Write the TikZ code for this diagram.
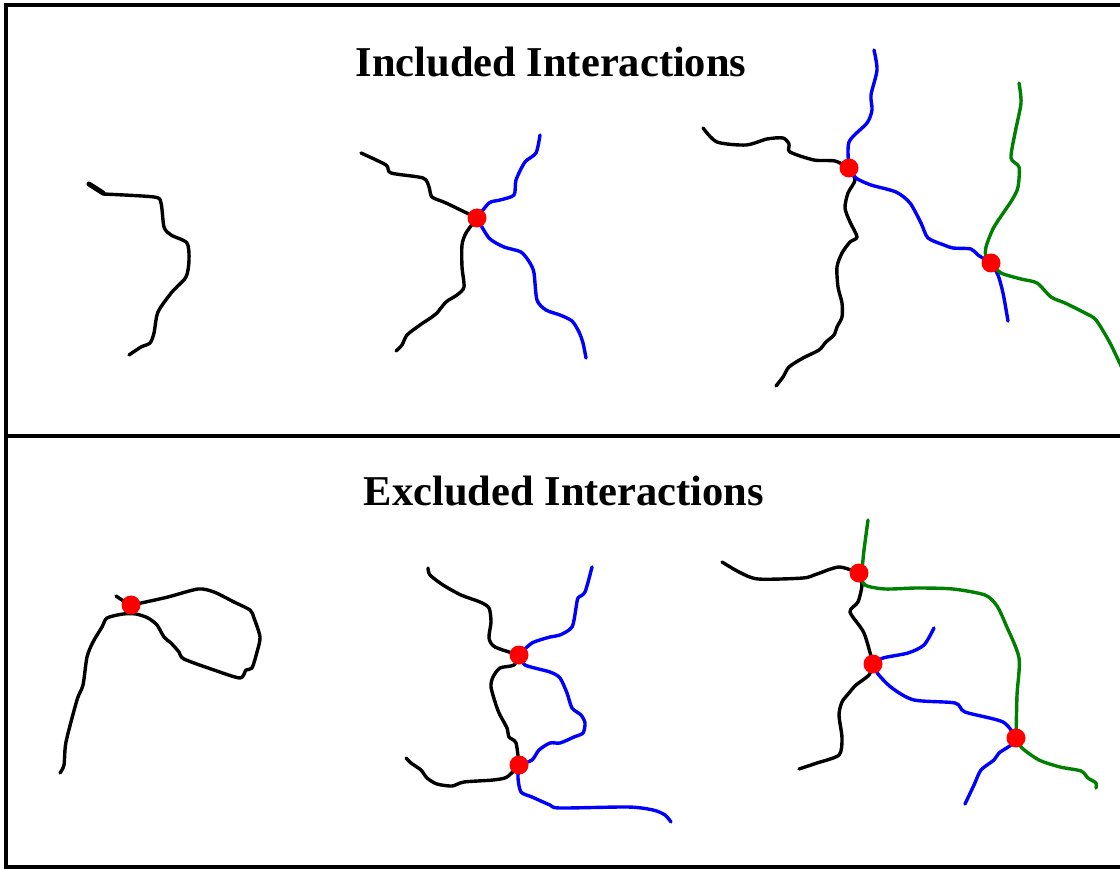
\documentclass[tikz,border=0pt]{standalone}
\usepackage{fontspec}
\setmainfont{Liberation Serif}
\usetikzlibrary{calc}
\definecolor{strandblue}{rgb}{0.00,0.00,1.00}
\definecolor{strandgreen}{rgb}{0.00,0.50,0.00}
\tikzset{
  strand/.style={line width=3.4pt, line cap=round, line join=round},
  frameline/.style={line width=3.4pt},
  heading/.style={font=\fontsize{42.5}{50}\selectfont\bfseries, anchor=base}
}

\begin{document}
\begin{tikzpicture}[x=1pt,y=-1pt]
    \def\r{9.5}
    \def\tn{0.45}
    \useasboundingbox (0,0) rectangle (1120,869);

    % frame
    \draw[frameline] (1125,5) -- (6,5) -- (6,867) -- (1125,867);
    \draw[frameline] (6,436) -- (1125,436);

    % titles
    \node[heading] (inc) at (551,77) {Included Interactions};
    \node[heading] (exc) at (564,505) {Excluded Interactions};

    % interaction points
    \coordinate (a1) at (477,218);
    \coordinate (b1) at (849,168);
    \coordinate (b2) at (991,263);
    \coordinate (e1) at (131,605);
    \coordinate (f1) at (519,655);
    \coordinate (f2) at (519,765);
    \coordinate (g1) at (859,573);
    \coordinate (g2) at (873,664);
    \coordinate (g3) at (1016,738);

    % included: single strand
    \draw[strand, line width=5pt] (89,184) -- (103,193);
    \draw[strand] plot[smooth, tension=\tn] coordinates {(103,194) (154,197) (161,203)
      (164,227) (171,235) (187,243) (189,260) (186,277) (172,292) (158,312) (154,333)
      (150,343) (141,347) (129,355)};

    % included: one crossing
    \draw[strand] plot[smooth, tension=\tn] coordinates {(361,153) (386,165) (391,173)
      (423,178) (429,187) (432,197) (446,203) (a1)};
    \draw[strand] plot[smooth, tension=\tn] coordinates {(a1) (466,233) (462,245)
      (462,267) (464,287) (457,295) (446,302) (437,313) (432,317) (420,325) (407,335)
      (402,345) (396,351)};
    \draw[strand, strandblue] plot[smooth, tension=\tn] coordinates {(a1) (489,203)
      (500,200) (514,195) (516,180) (525,162) (536,153) (540,135)};
    \draw[strand, strandblue] plot[smooth, tension=\tn] coordinates {(a1) (489,238)
      (504,247) (521,252) (530,263) (534,273) (537,300) (546,310) (560,315) (572,321)
      (579,332) (583,343) (586,358)};

    % included: chain of crossings
    \draw[strand] plot[smooth, tension=\tn] coordinates {(703,128) (717,142) (746,145)
      (767,139) (783,138) (789,144) (790,152) (814,160) (835,161) (b1)};
    \draw[strand] plot[smooth, tension=\tn] coordinates {(b1) (855,180) (848,193)
      (845,208) (850,222) (857,237) (850,242) (842,253) (837,267) (838,287) (842,303)
      (842,317) (837,327) (834,335) (826,342) (819,350) (803,358) (789,367) (783,377)
      (776,386)};
    \draw[strand, strandblue] plot[smooth, tension=\tn] coordinates {(874,50) (877,70)
      (871,95) (872,110) (867,123) (849,142) (b1)};
    \draw[strand, strandblue] plot[smooth, tension=\tn] coordinates {(b1) (856,178)
      (871,185) (896,192) (910,203) (921,223) (928,238) (944,245) (953,248) (971,249)
      (978,255) (b2)};
    \draw[strand, strandblue] plot[smooth, tension=\tn] coordinates {(b2) (998,275)
      (1003,293) (1008,321)};
    \draw[strand, strandgreen] plot[smooth, tension=\tn] coordinates {(1019,83)
      (1021,103) (1015,133) (1011,158) (1019,167) (1018,187) (1012,200) (994,227)
      (986,247) (986,257) (b2)};
    \draw[strand, strandgreen] plot[smooth, tension=\tn] coordinates {(b2) (1001,273)
      (1021,279) (1037,283) (1051,297) (1065,303) (1085,313) (1096,320) (1110,343)
      (1122,368)};

    % excluded: self loop
    \draw[strand] plot[smooth, tension=\tn] coordinates {(116,596) (e1) (141,603)
      (168,597) (198,589) (214,592) (234,602) (250,610) (254,618) (260,637) (257,652)
      (252,668) (246,670) (240,678) (214,670) (184,659) (179,652) (171,643) (164,637)
      (157,625) (148,618) (136,614) (123,614) (107,618) (102,627) (93,642) (87,657)
      (83,685) (77,700) (66,742) (64,765) (60,773)};

    % excluded: double crossing
    \draw[strand] plot[smooth, tension=\tn] coordinates {(428,568) (430,575) (443,585)
      (461,595) (480,602) (489,608) (491,622) (489,638) (495,647) (f1)};
    \draw[strand] plot[smooth, tension=\tn] coordinates {(f1) (514,665) (500,668)
      (493,677) (491,687) (496,705) (500,715) (507,728) (509,737) (516,743) (f2)};
    \draw[strand] plot[smooth, tension=\tn] coordinates {(406,758) (411,763) (421,770)
      (427,778) (437,784) (452,786) (464,782) (493,780) (507,777) (f2)};
    \draw[strand, strandblue] plot[smooth, tension=\tn] coordinates {(f1) (532,643)
      (550,637) (560,635) (572,627) (576,608) (578,598) (585,592) (592,567)};
    \draw[strand, strandblue] plot[smooth, tension=\tn] coordinates {(f1) (525,665)
      (550,672) (560,678) (567,693) (572,708) (581,715) (585,723) (583,733) (574,737)
      (560,743) (550,743) (539,750) (532,760) (f2)};
    \draw[strand, strandblue] plot[smooth, tension=\tn] coordinates {(f2) (518,778)
      (521,792) (532,797) (550,805) (560,808) (628,807) (653,810) (665,815) (671,822)};

    % excluded: closed cycle
    \draw[strand] plot[smooth, tension=\tn] coordinates {(722,562) (739,572) (758,579)
      (803,578) (817,574) (839,567) (g1)};
    \draw[strand] plot[smooth, tension=\tn] coordinates {(g1) (862,585) (858,602)
      (850,612) (864,633) (g2)};
    \draw[strand] plot[smooth, tension=\tn] coordinates {(g2) (869,675) (856,685)
      (849,693) (842,702) (839,715) (842,738) (839,755) (817,763) (799,769)};
    \draw[strand, strandgreen] plot[smooth, tension=\tn] coordinates {(868,520)
      (864,550) (862,568) (g1)};
    \draw[strand, strandgreen] plot[smooth, tension=\tn] coordinates {(g1) (865,585)
      (885,589) (917,588) (953,589) (985,595) (997,606) (1006,625) (1019,658) (1017,695)
      (g3)};
    \draw[strand, strandgreen] plot[smooth, tension=\tn] coordinates {(g3) (1022,748)
      (1039,760) (1060,767) (1081,771) (1088,778) (1096,783) (1096,788)};
    \draw[strand, strandblue] plot[smooth, tension=\tn] coordinates {(g2) (883,658)
      (908,653) (924,645) (934,628)};
    \draw[strand, strandblue] plot[smooth, tension=\tn] coordinates {(g2) (878,674)
      (892,688) (914,700) (955,703) (965,712) (1003,722) (g3)};
    \draw[strand, strandblue] plot[smooth, tension=\tn] coordinates {(g3) (1011,745)
      (999,753) (994,760) (981,770) (974,785) (965,804)};

    % red dots on top
    \foreach \p in {a1,b1,b2,e1,f1,f2,g1,g2,g3}
      \fill[red] (\p) circle (\r);
\end{tikzpicture}
\end{document}
